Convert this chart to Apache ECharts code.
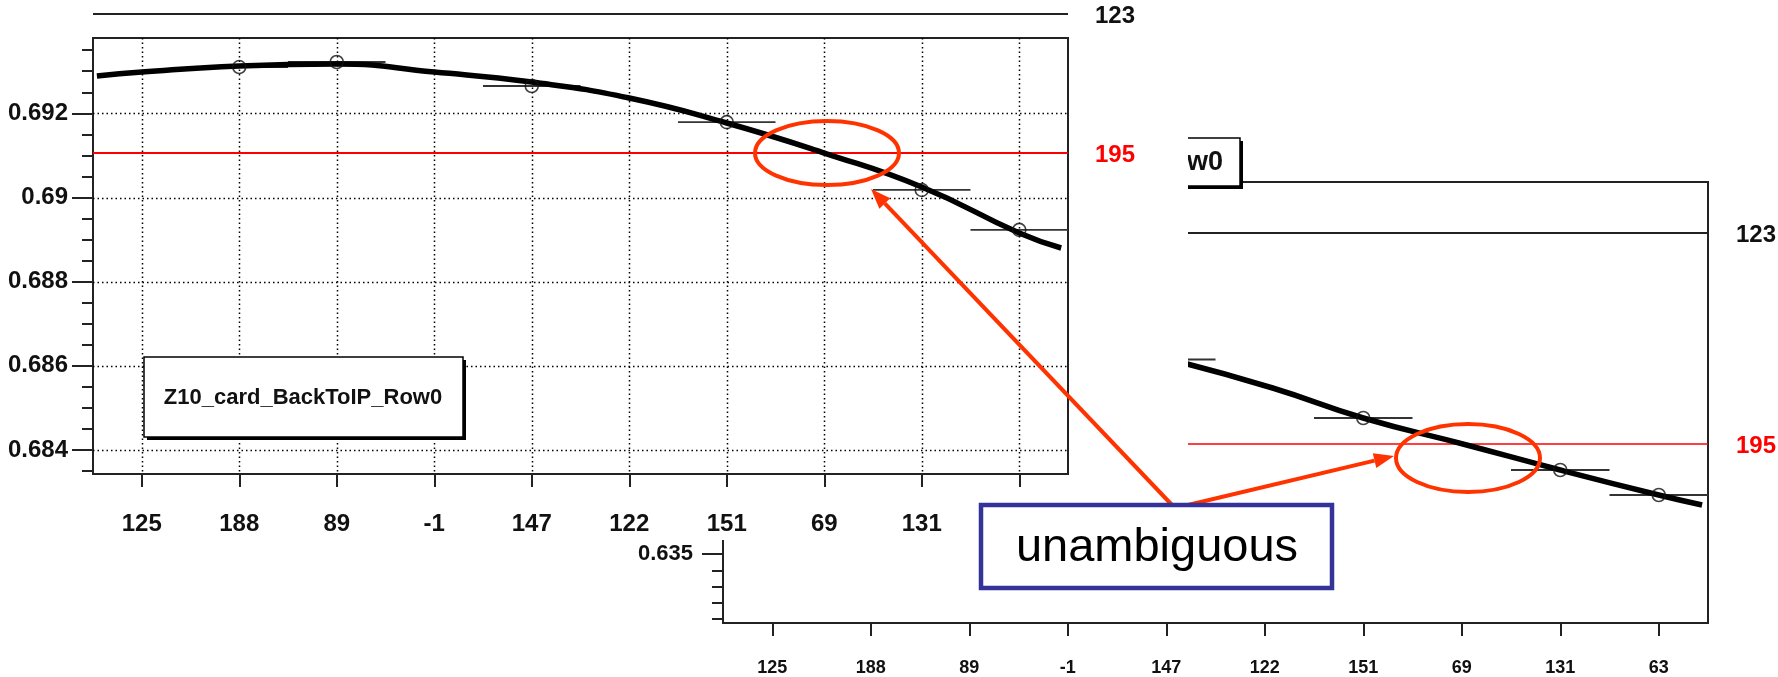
<!DOCTYPE html>
<html><head><meta charset="utf-8">
<script src="https://cdn.jsdelivr.net/npm/echarts@6/dist/echarts.min.js"></script>
<style>html,body{margin:0;padding:0;background:#fff}#c{width:1778px;height:677px}</style>
</head><body><div id="c"></div>
<script>
// ---------- data ----------
const categories = ['125', '188', '89', '-1', '147', '122', '151', '69', '131', '63'];

// Panel A (front, upper-left)
const aPointIdx = [1, 2, 4, 6, 8, 9];
const aPointVal = [0.69310, 0.69322, 0.69265, 0.69179, 0.69018, 0.68923];
const aCurveX = [0.04, 0.5, 1.5, 2.5, 3.5, 4.5, 5.5, 6.5, 7.5, 8.5, 9.5, 9.93];
const aCurveY = [0.692886, 0.692981, 0.693124, 0.693171, 0.692981, 0.692743, 0.692363, 0.691770, 0.691057, 0.690249, 0.689157, 0.688800];
const aYMin = 0.68343, aYMax = 0.69379;
const aMajorTicks = [0.684, 0.686, 0.688, 0.690, 0.692];
const aMinorTicks = [0.6835, 0.6840, 0.6845, 0.6850, 0.6855, 0.6860, 0.6865, 0.6870, 0.6875, 0.6880, 0.6885, 0.6890, 0.6895, 0.6900, 0.6905, 0.6910, 0.6915, 0.6920, 0.6925, 0.6930, 0.6935];
const aRefNames = ['123', '195'];
const aRefVals = [0.69436, 0.69106];

// Panel B (behind, lower-right)
const bPointIdx = [1, 2, 4, 6, 8, 9];
const bPointVal = [0.64817, 0.64848, 0.64697, 0.64337, 0.64017, 0.63863];
const bCurveX = [4.6, 5.58, 6.5, 7.55, 8.5, 9.5, 9.94];
const bCurveY = [0.646877, 0.645215, 0.643369, 0.641708, 0.640169, 0.638631, 0.638015];
const bYMin = 0.630754, bYMax = 0.657892;
const bMajorTicks = [0.635, 0.640, 0.645, 0.650, 0.655];
const bMinorTicks = [0.631, 0.632, 0.633, 0.634, 0.635, 0.636, 0.637, 0.638, 0.639, 0.640, 0.641, 0.642, 0.643, 0.644, 0.645, 0.646, 0.647, 0.648, 0.649, 0.650, 0.651, 0.652, 0.653, 0.654, 0.655, 0.656, 0.657];
const bRefNames = ['123', '195'];
const bRefVals = [0.654754, 0.641769];

const legendText = 'Z10_card_BackToIP_Row0';
const noteText = 'unambiguous';

// ---------- styles ----------
const FONT = 'Liberation Sans, Arial, sans-serif';
const INK = '#222';
const RED = '#ff3300';
const refColors = ['#222', '#ff0000'];

function yAxes(grid, min, max, majors, minors, z, labelSize, labelMargin) {
  return [
    { gridIndex: grid, type: 'value', min, max, position: 'left', offset: 0, z,
      axisLine: { show: false }, splitLine: { show: false },
      axisTick: { show: true, inside: false, length: 21, customValues: majors, lineStyle: { color: INK, width: 2 } },
      axisLabel: { show: true, customValues: majors, margin: labelMargin, color: '#111',
        fontSize: labelSize, fontWeight: 'bold', fontFamily: FONT,
        formatter: v => String(Number(Number(v).toFixed(4))) } },
    { gridIndex: grid, type: 'value', min, max, position: 'left', offset: 0, z,
      axisLine: { show: false }, splitLine: { show: false }, axisLabel: { show: false },
      axisTick: { show: true, inside: false, length: 11, customValues: minors, lineStyle: { color: INK, width: 2 } } }
  ];
}
function xAxes(grid, z, labelSize, labelMargin) {
  return [
    { gridIndex: grid, type: 'category', data: categories, boundaryGap: true, position: 'bottom', z,
      axisLine: { show: true, onZero: false, lineStyle: { color: INK, width: 2 } },
      axisTick: { show: true, alignWithLabel: true, inside: false, length: 13, lineStyle: { color: INK, width: 2 } },
      axisLabel: { interval: 0, margin: labelMargin, color: '#111', fontSize: labelSize, fontWeight: 'bold', fontFamily: FONT },
      splitLine: { show: false } },
    { gridIndex: grid, type: 'value', min: 0, max: categories.length, show: false }
  ];
}

function gridLinesSeries(xi, yi, ys, yMin, z) {
  const data = ys.map(v => [0, v, 0]).concat(categories.map((c, i) => [i + 0.5, yMin, 1]));
  return { type: 'custom', xAxisIndex: xi, yAxisIndex: yi, z, silent: true, clip: false, animation: false,
    data, encode: { x: 0, y: 1 },
    renderItem(params, api) {
      const cs = params.coordSys;
      const st = { stroke: '#000', lineWidth: 1.5, lineDash: [1.5, 3] };
      if (api.value(2) === 0) {
        const y = Math.round(api.coord([0, api.value(1)])[1]) + 0.5;
        return { type: 'line', shape: { x1: cs.x, y1: y, x2: cs.x + cs.width, y2: y }, style: st };
      }
      const x = Math.round(api.coord([api.value(0), api.value(1)])[0]) + 0.5;
      return { type: 'line', shape: { x1: x, y1: cs.y, x2: x, y2: cs.y + cs.height }, style: st };
    } };
}
function refLineSeries(xi, yi, names, vals, widths, dist, z) {
  return { type: 'custom', xAxisIndex: xi, yAxisIndex: yi, z, silent: true, clip: false, animation: false,
    data: vals.map((v, i) => [0, v, i]), encode: { x: 0, y: 1 },
    renderItem(params, api) {
      const cs = params.coordSys;
      const i = api.value(2);
      const y = api.coord([0, api.value(1)])[1];
      return { type: 'group', children: [
        { type: 'line', shape: { x1: cs.x, y1: y, x2: cs.x + cs.width, y2: y }, style: { stroke: refColors[i], lineWidth: widths[i] } },
        { type: 'text', x: cs.x + cs.width + dist, y: y + 2, style: { text: names[i], fill: i === 1 ? '#ff0000' : '#111',
          font: 'bold 24px ' + FONT, align: 'left', verticalAlign: 'middle' } }
      ] };
    } };
}
function errSeries(xi, yi, idx, vals, z) {
  return { type: 'custom', xAxisIndex: xi, yAxisIndex: yi, z, silent: true, clip: false, animation: false,
    data: idx.map((k, i) => [k + 0.5, vals[i]]), encode: { x: 0, y: 1 },
    renderItem(params, api) {
      const p1 = api.coord([api.value(0) - 0.5, api.value(1)]);
      const p2 = api.coord([api.value(0) + 0.5, api.value(1)]);
      return { type: 'line', shape: { x1: p1[0], y1: p1[1], x2: p2[0], y2: p2[1] }, style: { stroke: '#333', lineWidth: 1.8 } };
    } };
}
function curveSeries(xi, yi, xs, ys, z) {
  return { type: 'line', xAxisIndex: xi, yAxisIndex: yi, z, smooth: true, showSymbol: false, animation: false, silent: true,
    data: xs.map((x, i) => [x, ys[i]]), lineStyle: { color: '#000', width: 5.5 } };
}
function pointSeries(xi, yi, idx, vals, z) {
  return { type: 'scatter', xAxisIndex: xi, yAxisIndex: yi, z, animation: false, silent: true,
    data: idx.map((k, i) => [k + 0.5, vals[i]]), symbol: 'circle', symbolSize: 13,
    itemStyle: { color: 'rgba(255,255,255,0)', borderColor: '#111', borderWidth: 1.6 } };
}

function arrow(x1, y1, x2, y2, z) {
  const dx = x2 - x1, dy = y2 - y1, L = Math.hypot(dx, dy), ux = dx / L, uy = dy / L;
  const hl = 20, hw = 7.5;
  const bx = x2 - ux * hl, by = y2 - uy * hl;
  return [
    { type: 'line', z, shape: { x1, y1, x2: bx, y2: by }, style: { stroke: RED, lineWidth: 4 } },
    { type: 'polygon', z, shape: { points: [[x2, y2], [bx - uy * hw, by + ux * hw], [bx + uy * hw, by - ux * hw]] }, style: { fill: RED } }
  ];
}
function legendBox(x, y, w, h, textX, align, fontSize, z) {
  return [
    { type: 'rect', z, shape: { x: x + 3, y: y + 3, width: w, height: h }, style: { fill: '#000' } },
    { type: 'rect', z: z + 0.1, shape: { x, y, width: w, height: h }, style: { fill: '#fff', stroke: '#000', lineWidth: 1.5 } },
    { type: 'text', z: z + 0.2, x: textX, y: y + h / 2 + 1, style: { text: legendText, fill: '#111',
      font: 'bold ' + fontSize + 'px ' + FONT, align, verticalAlign: 'middle' } }
  ];
}

const chart = echarts.init(document.getElementById('c'), null, { renderer: 'canvas' });
const [ay0, ay1] = yAxes(0, aYMin, aYMax, aMajorTicks, aMinorTicks, 7, 24, 25);
const [by0, by1] = yAxes(1, bYMin, bYMax, bMajorTicks, bMinorTicks, 2, 22, 30);
const [ax0, ax1] = xAxes(0, 7, 24, 38);
const [bx0, bx1] = xAxes(1, 2, 18, 36);

chart.setOption({
  backgroundColor: '#fff',
  animation: false,
  grid: [
    { left: 93, top: 38, width: 975, height: 436, show: true, backgroundColor: '#fff', borderColor: INK, borderWidth: 2, z: 6 },
    { left: 723, top: 182, width: 985, height: 441, show: true, backgroundColor: '#fff', borderColor: INK, borderWidth: 2, z: 1 }
  ],
  xAxis: [ax0, ax1, bx0, bx1],
  yAxis: [ay0, ay1, by0, by1],
  series: [
    // panel B (behind)
    refLineSeries(3, 2, bRefNames, bRefVals, [2, 1.5], 28, 2),
    errSeries(3, 2, bPointIdx, bPointVal, 3),
    curveSeries(3, 2, bCurveX, bCurveY, 3),
    pointSeries(3, 2, bPointIdx, bPointVal, 4),
    // panel A (front)
    gridLinesSeries(1, 0, aMajorTicks, aYMin, 7),
    refLineSeries(1, 0, aRefNames, aRefVals, [2, 2], 27, 8),
    errSeries(1, 0, aPointIdx, aPointVal, 9),
    curveSeries(1, 0, aCurveX, aCurveY, 10),
    pointSeries(1, 0, aPointIdx, aPointVal, 11)
  ],
  graphic: { elements: [
    ...legendBox(866, 138, 374, 48, 1223, 'right', 27, 3),
    { type: 'rect', z: 5, shape: { x: 0, y: 0, width: 1188, height: 540 }, style: { fill: '#fff' } },
    ...legendBox(144, 357, 319, 80, 303, 'center', 22, 12),
    { type: 'ellipse', z: 20, shape: { cx: 827, cy: 153, rx: 72, ry: 32 }, style: { fill: 'none', stroke: RED, lineWidth: 4 } },
    { type: 'ellipse', z: 20, shape: { cx: 1468, cy: 458, rx: 72, ry: 34 }, style: { fill: 'none', stroke: RED, lineWidth: 4 } },
    ...arrow(1172, 505, 871, 189, 21),
    ...arrow(1188, 505, 1394, 456, 21),
    { type: 'rect', z: 22, shape: { x: 981, y: 505, width: 351, height: 83 }, style: { fill: '#fff', stroke: '#333399', lineWidth: 4.5 } },
    { type: 'text', z: 23, x: 1157, y: 548, style: { text: noteText, fill: '#000', font: '47px ' + FONT, align: 'center', verticalAlign: 'middle' } }
  ] }
});
</script></body></html>
